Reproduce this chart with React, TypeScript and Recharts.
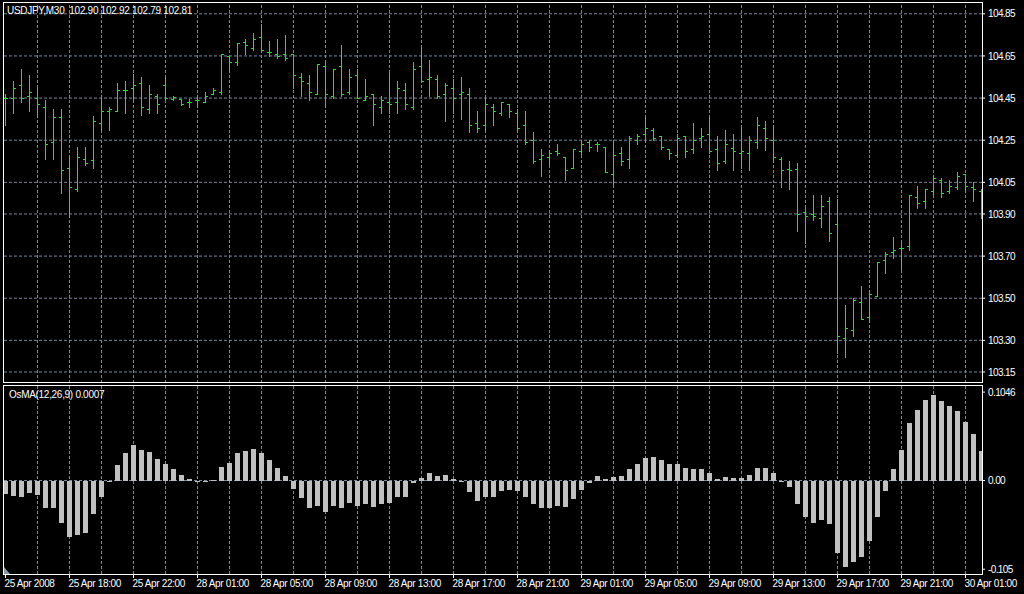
import { ComposedChart, Bar, XAxis, YAxis, ReferenceLine } from 'recharts'

// USDJPY M30 bars, 25 Apr 2008 -> 30 Apr 2008
const opens = [
  104.45, 104.45, 104.51, 104.46, 104.45, 104.41, 104.24, 104.36, 104.12, 104.02,
  104.16, 104.155, 104.33, 104.39, 104.39, 104.49, 104.5, 104.52, 104.4, 104.46,
  104.51, 104.447, 104.447, 104.43, 104.44, 104.43, 104.47, 104.48, 104.65, 104.62,
  104.717, 104.69, 104.74, 104.67, 104.66, 104.66, 104.66, 104.55, 104.52, 104.47,
  104.6, 104.46, 104.6, 104.48, 104.56, 104.44, 104.47, 104.41, 104.43, 104.43,
  104.49, 104.41, 104.6, 104.54, 104.54, 104.47, 104.5, 104.47, 104.47, 104.33,
  104.32, 104.41, 104.38, 104.42, 104.38, 104.32, 104.25, 104.16, 104.17, 104.2,
  104.17, 104.12, 104.2, 104.24, 104.23, 104.22, 104.09, 104.19, 104.16, 104.25,
  104.28, 104.3, 104.27, 104.21, 104.18, 104.27, 104.21, 104.26, 104.28, 104.21,
  104.15, 104.215, 104.19, 104.19, 104.24, 104.31, 104.25, 104.16, 104.115, 104.115,
  103.91, 103.9, 103.88, 103.96, 103.85, 103.31, 103.35, 103.48, 103.41, 103.51,
  103.68, 103.72, 103.74, 103.75, 103.98, 103.96, 104.01, 104.06, 104.01, 104.03,
  104.09, 104.03, 104.01,
]
const highs = [
  104.47, 104.53, 104.59, 104.56, 104.5, 104.44, 104.4, 104.4, 104.175, 104.22,
  104.22, 104.365, 104.45, 104.41, 104.52, 104.53, 104.565, 104.55, 104.51, 104.47,
  104.55, 104.46, 104.447, 104.447, 104.46, 104.48, 104.5, 104.66, 104.65, 104.71,
  104.73, 104.76, 104.8, 104.72, 104.73, 104.75, 104.66, 104.57, 104.56, 104.61,
  104.63, 104.59, 104.7, 104.59, 104.59, 104.54, 104.47, 104.46, 104.57, 104.53,
  104.52, 104.62, 104.69, 104.63, 104.56, 104.52, 104.54, 104.55, 104.5, 104.39,
  104.45, 104.42, 104.43, 104.42, 104.4, 104.39, 104.29, 104.21, 104.2, 104.23,
  104.17, 104.21, 104.25, 104.25, 104.24, 104.22, 104.25, 104.22, 104.27, 104.28,
  104.36, 104.31, 104.27, 104.21, 104.28, 104.27, 104.33, 104.31, 104.36, 104.27,
  104.3, 104.28, 104.31, 104.27, 104.36, 104.34, 104.32, 104.17, 104.15, 104.14,
  103.93, 103.99, 103.99, 103.98, 103.97, 103.47, 103.5, 103.56, 103.54, 103.67,
  103.72, 103.79, 103.76, 103.99, 104.035, 104.02, 104.08, 104.07, 104.06, 104.1,
  104.09, 104.05, 104.02,
]
const lows = [
  104.32, 104.38, 104.43, 104.39, 104.36, 104.16, 104.16, 104.0, 103.89, 104.01,
  104.13, 104.12, 104.3, 104.3, 104.39, 104.38, 104.447, 104.37, 104.38, 104.38,
  104.447, 104.44, 104.417, 104.41, 104.41, 104.43, 104.47, 104.47, 104.58, 104.605,
  104.66, 104.68, 104.67, 104.65, 104.64, 104.63, 104.5, 104.46, 104.44, 104.47,
  104.41, 104.45, 104.46, 104.47, 104.45, 104.44, 104.32, 104.38, 104.38, 104.38,
  104.4, 104.4, 104.53, 104.46, 104.45, 104.34, 104.38, 104.35, 104.29, 104.29,
  104.3, 104.32, 104.37, 104.36, 104.3, 104.23, 104.14, 104.08, 104.13, 104.18,
  104.06, 104.12, 104.185, 104.2, 104.2, 104.1, 104.04, 104.13, 104.12, 104.23,
  104.24, 104.25, 104.21, 104.16, 104.17, 104.17, 104.19, 104.22, 104.19, 104.11,
  104.14, 104.11, 104.12, 104.11, 104.215, 104.205, 104.15, 104.03, 104.02, 103.82,
  103.76, 103.87, 103.84, 103.77, 103.24, 103.22, 103.32, 103.4, 103.385, 103.51,
  103.62, 103.69, 103.64, 103.73, 103.93, 103.93, 103.99, 103.98, 104.0, 104.02,
  104.01, 103.96, 103.88,
]
const closes = [
  104.45, 104.5, 104.45, 104.48, 104.42, 104.23, 104.36, 104.11, 104.03, 104.17,
  104.14, 104.34, 104.39, 104.4, 104.49, 104.49, 104.51, 104.41, 104.47, 104.42,
  104.45, 104.456, 104.42, 104.43, 104.44, 104.46, 104.49, 104.66, 104.62, 104.71,
  104.7, 104.73, 104.68, 104.67, 104.65, 104.64, 104.56, 104.53, 104.48, 104.61,
  104.47, 104.59, 104.47, 104.55, 104.45, 104.46, 104.42, 104.44, 104.42, 104.5,
  104.42, 104.59, 104.53, 104.55, 104.46, 104.51, 104.45, 104.48, 104.32, 104.31,
  104.42, 104.39, 104.43, 104.39, 104.31, 104.24, 104.15, 104.18, 104.19, 104.19,
  104.11, 104.21, 104.23, 104.22, 104.23, 104.1, 104.18, 104.15, 104.26, 104.27,
  104.31, 104.26, 104.22, 104.19, 104.26, 104.2, 104.25, 104.27, 104.2, 104.14,
  104.23, 104.2, 104.2, 104.25, 104.32, 104.26, 104.17, 104.11, 104.11, 103.9,
  103.89, 103.89, 103.94, 103.81, 103.32, 103.36, 103.49, 103.4, 103.52, 103.67,
  103.71, 103.73, 103.74, 103.99, 103.95, 104.02, 104.07, 104.0, 104.035, 104.08,
  104.035, 104.02, 103.95,
]
// OsMA(12,26,9) histogram
const osma = [
  -0.016, -0.018, -0.019, -0.015, -0.017, -0.032, -0.032, -0.05, -0.067, -0.065,
  -0.062, -0.04, -0.019, -0.001, 0.0185, 0.033, 0.042, 0.036, 0.034, 0.026,
  0.02, 0.014, 0.007, 0.0015, -0.001, -0.001, 0.001, 0.016, 0.021, 0.032,
  0.035, 0.037, 0.033, 0.0245, 0.015, 0.0055, -0.01, -0.021, -0.033, -0.03,
  -0.037, -0.03, -0.033, -0.027, -0.03, -0.028, -0.031, -0.028, -0.027, -0.02,
  -0.019, -0.0035, 0.003, 0.009, 0.0055, 0.0067, 0.0015, -0.0005, -0.014, -0.024,
  -0.02, -0.019, -0.013, -0.011, -0.013, -0.02, -0.028, -0.032, -0.032, -0.03,
  -0.031, -0.022, -0.011, -0.0025, 0.0055, 0.0015, 0.0045, 0.0055, 0.014, 0.02,
  0.027, 0.028, 0.0245, 0.02, 0.02, 0.015, 0.014, 0.014, 0.009, 0.0015,
  0.0045, 0.003, 0.003, 0.0067, 0.015, 0.015, 0.009, -0.001, -0.008, -0.028,
  -0.043, -0.05, -0.047, -0.051, -0.086, -0.102, -0.096, -0.091, -0.072, -0.043,
  -0.013, 0.014, 0.036, 0.068, 0.084, 0.095, 0.1014, 0.094, 0.088, 0.082,
  0.069, 0.055, 0.035,
]
const timeLabels = [
  '25 Apr 2008', '25 Apr 18:00', '25 Apr 22:00', '28 Apr 01:00', '28 Apr 05:00', '28 Apr 09:00',
  '28 Apr 13:00', '28 Apr 17:00', '28 Apr 21:00', '29 Apr 01:00', '29 Apr 05:00', '29 Apr 09:00',
  '29 Apr 13:00', '29 Apr 17:00', '29 Apr 21:00', '30 Apr 01:00',
]
const timeTickIdx = [0, 8, 16, 24, 32, 40, 48, 56, 64, 72, 80, 88, 96, 104, 112, 120]
const gridIdx = [
  4, 8, 12, 16, 20, 24, 28, 32, 36, 40, 44, 48, 52, 56, 60, 64, 68, 72, 76, 80,
  84, 88, 92, 96, 100, 104, 108, 112, 116, 120,
]
const priceTicks = [103.15, 103.3, 103.5, 103.7, 103.9, 104.05, 104.25, 104.45, 104.65, 104.85]
const osmaTicks = [-0.105, 0, 0.1046]

const rows = opens.map((o, i) => ({
  i,
  open: o,
  high: highs[i],
  low: lows[i],
  close: closes[i],
  osma: osma[i],
}))

const GREEN = '#1ee61e'
const GRID = '#778899'
const FONT = '"Liberation Sans", Arial, sans-serif'
const X_DOMAIN: [number, number] = [-0.3125, 122.0625]
const PRICE_DOMAIN: [number, number] = [103.0977, 104.906]
const OSMA_DOMAIN: [number, number] = [-0.11065, 0.11302]
const TOP_MARGIN = { top: 2, right: 0, bottom: 2, left: 3 }
const BOT_MARGIN = { top: 0, right: 0, bottom: 0, left: 3 }
const layer = { position: 'absolute' as const, left: 0, top: 0 }

function OhlcShape(props: any) {
  const { x, y, width, height, payload } = props
  if (x == null || y == null) return null
  const cx = Math.floor(x + width / 2) + 0.5
  const span = payload.high - payload.low
  const at = (v: number) => (span > 0 ? y + ((payload.high - v) / span) * height : y)
  const yo = Math.round(at(payload.open)) + 0.5
  const yc = Math.round(at(payload.close)) + 0.5
  return (
    <g stroke={GREEN} strokeWidth={1}>
      <line x1={cx} x2={cx} y1={Math.round(y)} y2={Math.round(y + height) + 1} />
      <line x1={cx - 2.5} x2={cx} y1={yo} y2={yo} />
      <line x1={cx} x2={cx + 2.5} y1={yc} y2={yc} />
    </g>
  )
}

function HistShape(props: any) {
  const { x, y, width, height } = props
  if (x == null || y == null) return null
  const c = Math.floor(x + width / 2)
  const top = Math.round(Math.min(y, y + height))
  const bot = Math.round(Math.max(y, y + height))
  return <rect x={c - 2} y={top} width={5} height={Math.max(bot - top, 1)} fill="#c0c0c0" />
}

function YTick(props: any) {
  const { x, y, payload, fmt } = props
  return (
    <text x={x} y={y} dy={3.6} fill="#fff" fontSize={10} fontFamily={FONT} letterSpacing={-0.6} textAnchor="start">
      {fmt(payload.value)}
    </text>
  )
}

function TimeTick(props: any) {
  const { x, y, payload } = props
  const k = timeTickIdx.indexOf(payload.value)
  const cx = Math.floor(x) + 0.5
  return (
    <g>
      <line x1={cx} x2={cx} y1={y} y2={y + 4} stroke="#fff" />
      <text x={cx - 1} y={y + 13} fill="#fff" fontSize={10} fontFamily={FONT} letterSpacing={-0.35} textAnchor="start">
        {timeLabels[k]}
      </text>
    </g>
  )
}

const fmtPrice = (v: number) => v.toFixed(2)
const fmtOsma = (v: number) => (v === 0 ? '0.00' : v === 0.1046 ? '0.1046' : v.toFixed(3))

export default function App() {
  return (
    <div style={{ position: 'absolute', left: 0, top: 0, width: 1024, height: 594, background: '#000', overflow: 'hidden' }}>
      {/* price panel: grid + axis underneath, bars on top */}
      <div style={{ position: 'absolute', left: 0, top: 0, width: 1024, height: 385 }}>
        <div style={layer}>
          <ComposedChart width={1024} height={385} data={rows} margin={TOP_MARGIN}>
            <XAxis dataKey="i" type="number" domain={X_DOMAIN} allowDataOverflow hide />
            <YAxis
              orientation="right"
              type="number"
              domain={PRICE_DOMAIN}
              allowDataOverflow
              ticks={priceTicks}
              interval={0}
              width={42}
              axisLine={false}
              tickLine={{ stroke: '#fff' }}
              tickSize={3}
              tickMargin={3}
              tick={<YTick fmt={fmtPrice} />}
            />
            {priceTicks.map((p) => (
              <ReferenceLine key={'h' + p} y={p} stroke={GRID} strokeDasharray="3 2" />
            ))}
            {gridIdx.map((g) => (
              <ReferenceLine key={'v' + g} x={g} stroke={GRID} strokeDasharray="3 2" />
            ))}
          </ComposedChart>
        </div>
        <div style={layer}>
          <ComposedChart width={1024} height={385} data={rows} margin={{ ...TOP_MARGIN, right: 42 }}>
            <XAxis dataKey="i" type="number" domain={X_DOMAIN} allowDataOverflow hide />
            <YAxis type="number" domain={PRICE_DOMAIN} allowDataOverflow hide />
            <Bar dataKey={(d: any) => [d.low, d.high]} barSize={2} shape={<OhlcShape />} isAnimationActive={false} />
          </ComposedChart>
        </div>
      </div>
      {/* OsMA panel */}
      <div style={{ position: 'absolute', left: 0, top: 385, width: 1024, height: 209 }}>
        <div style={layer}>
          <ComposedChart width={1024} height={209} data={rows} margin={BOT_MARGIN}>
            <XAxis
              dataKey="i"
              type="number"
              domain={X_DOMAIN}
              allowDataOverflow
              ticks={timeTickIdx}
              interval={0}
              height={20}
              axisLine={false}
              tickLine={false}
              tickSize={0}
              tickMargin={0}
              tick={<TimeTick />}
            />
            <YAxis
              orientation="right"
              type="number"
              domain={OSMA_DOMAIN}
              allowDataOverflow
              ticks={osmaTicks}
              interval={0}
              width={42}
              axisLine={false}
              tickLine={{ stroke: '#fff' }}
              tickSize={3}
              tickMargin={3}
              tick={<YTick fmt={fmtOsma} />}
            />
            <ReferenceLine y={0} stroke={GRID} strokeDasharray="3 2" />
            {gridIdx.map((g) => (
              <ReferenceLine key={'bv' + g} x={g} stroke={GRID} strokeDasharray="3 2" />
            ))}
          </ComposedChart>
        </div>
        <div style={layer}>
          <ComposedChart width={1024} height={209} data={rows} margin={{ ...BOT_MARGIN, right: 42, bottom: 20 }}>
            <XAxis dataKey="i" type="number" domain={X_DOMAIN} allowDataOverflow hide />
            <YAxis type="number" domain={OSMA_DOMAIN} allowDataOverflow hide />
            <Bar dataKey="osma" barSize={4} shape={<HistShape />} isAnimationActive={false} />
          </ComposedChart>
        </div>
      </div>
      {/* panel frames */}
      <div style={{ position: 'absolute', left: 3, top: 2, width: 980, height: 381, border: '1px solid #fff', boxSizing: 'border-box', pointerEvents: 'none' }} />
      <div style={{ position: 'absolute', left: 3, top: 385, width: 980, height: 190, border: '1px solid #fff', boxSizing: 'border-box', pointerEvents: 'none' }} />
      <svg width={1024} height={594} style={{ position: 'absolute', left: 0, top: 0, pointerEvents: 'none' }}>
        <text x={7} y={14} fill="#fff" fontSize={10} fontFamily={FONT} letterSpacing={-0.3} style={{ whiteSpace: 'pre' }}>
          USDJPY,M30  102.90 102.92 102.79 102.81
        </text>
        <text x={9} y={398} fill="#fff" fontSize={10} fontFamily={FONT} letterSpacing={-0.3}>
          OsMA(12,26,9) 0.0007
        </text>
        <polygon points="4,567 4,574 10,574" fill="#8a9aab" />
      </svg>
    </div>
  )
}
